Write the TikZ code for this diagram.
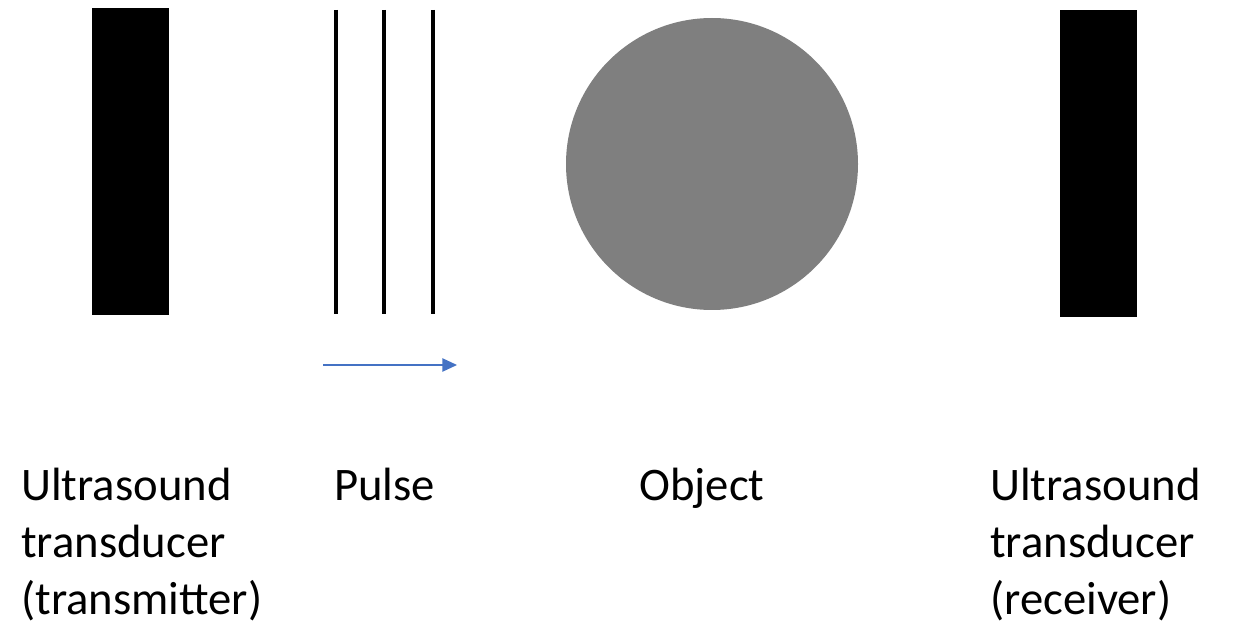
\documentclass[tikz,border=0pt]{standalone}
\usepackage{fontspec}
\setmainfont{Carlito}
\usetikzlibrary{arrows.meta}
\definecolor{pulseblue}{HTML}{4472C4}
\definecolor{objgray}{HTML}{7F7F7F}
\tikzset{
  transducer/.style={fill=black, draw=none, inner sep=0pt, minimum width=57.75pt, minimum height=230.25pt},
  wavefront/.style={line width=3pt, black},
  label/.style={anchor=base west, align=left, inner sep=0pt, font=\fontsize{35}{42.75}\selectfont},
  motion/.style={pulseblue, line width=1.1pt, -{Triangle[length=11pt,width=10pt]}}
}
\begin{document}
\begin{tikzpicture}[x=0.75pt, y=-0.75pt]
  \useasboundingbox (0,0) rectangle (1233,624);
  % transmitter and receiver
  \node[transducer] (tx) at (130.5,162) {};
  \node[transducer] (rx) at (1098,163.5) {};
  % pulse wavefronts
  \coordinate (p1t) at (335.7,10); \coordinate (p1b) at (335.7,314);
  \coordinate (p2t) at (384.3,10); \coordinate (p2b) at (384.3,314);
  \coordinate (p3t) at (433.3,10); \coordinate (p3b) at (433.3,314);
  \draw[wavefront] (p1t) -- (p1b);
  \draw[wavefront] (p2t) -- (p2b);
  \draw[wavefront] (p3t) -- (p3b);
  % direction of travel
  \coordinate (as) at (323,365);
  \coordinate (ae) at (457,365);
  \draw[motion] (as) -- (ae);
  % object
  \node[circle, fill=objgray, draw=none, inner sep=0pt, minimum size=219pt] (obj) at (712,164) {};
  % labels (multi-line labels are placed by the baseline of their last line)
  \node[label] (ltx) at (21,614) {Ultrasound\\transducer\\(transmitter)};
  \node[label] (lp) at (334,500) {Pulse};
  \node[label] (lo) at (639,500) {Object};
  \node[label] (lrx) at (990,614) {Ultrasound\\transducer\\(receiver)};
\end{tikzpicture}
\end{document}
